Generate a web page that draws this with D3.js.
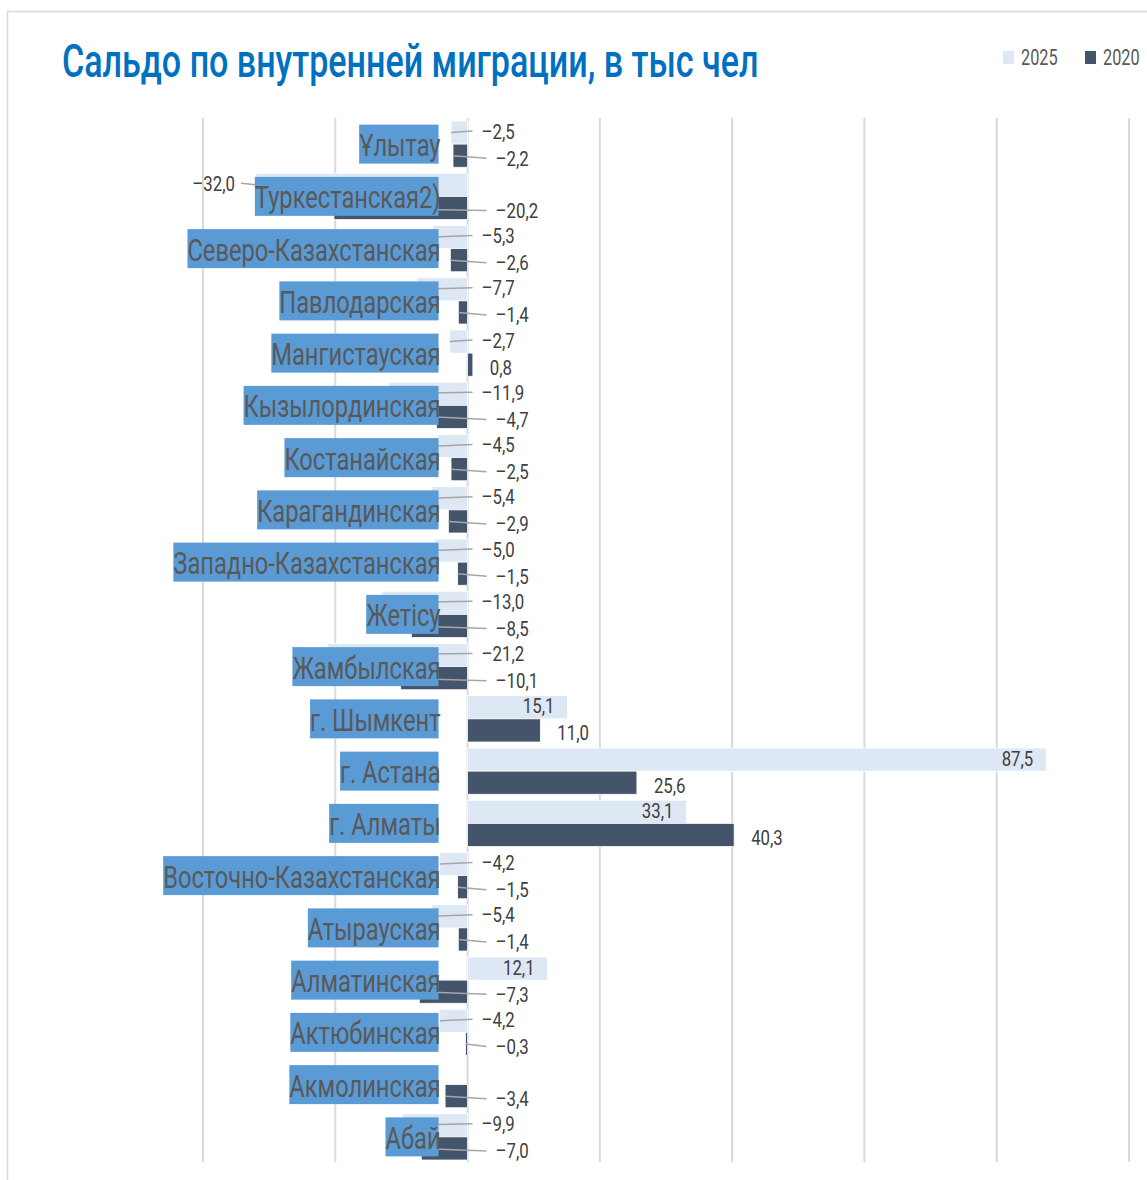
<!DOCTYPE html>
<html>
<head>
<meta charset="utf-8">
<script src="https://cdn.jsdelivr.net/npm/d3@7"></script>
<style>
  html, body { margin: 0; padding: 0; background: #fff; }
  svg { display: block; }
  text { font-family: Roboto, "Noto Sans", sans-serif; }
</style>
</head>
<body>
<svg id="chart" width="1147" height="1180"></svg>
<script>
// ---------- data ----------
const categories = [
  "Ұлытау", "Туркестанская2)", "Северо-Казахстанская", "Павлодарская",
  "Мангистауская", "Кызылординская", "Костанайская", "Карагандинская",
  "Западно-Казахстанская", "Жетісу", "Жамбылская", "г. Шымкент",
  "г. Астана", "г. Алматы", "Восточно-Казахстанская", "Атырауская",
  "Алматинская", "Актюбинская", "Акмолинская", "Абай"
];
const seriesNames = ["2025", "2020"];
const values2025 = [-2.5, -32.0, -5.3, -7.7, -2.7, -11.9, -4.5, -5.4, -5.0, -13.0,
                    -21.2, 15.1, 87.5, 33.1, -4.2, -5.4, 12.1, -4.2, null, -9.9];
const values2020 = [-2.2, -20.2, -2.6, -1.4, 0.8, -4.7, -2.5, -2.9, -1.5, -8.5,
                    -10.1, 11.0, 25.6, 40.3, -1.5, -1.4, -7.3, -0.3, -3.4, -7.0];
const xTicks = [-40, -20, 0, 20, 40, 60, 80, 100];
const titleText = "Сальдо по внутренней миграции, в тыс чел";

// ---------- styles ----------
const colors = { "2025": "#dde8f4", "2020": "#44546a" };
const squeeze = 0.74; // horizontally condensed lettering

const svg = d3.select("#chart");

// outer frame
svg.append("rect").attr("x", 7.5).attr("y", 11.5).attr("width", 1200).attr("height", 1250)
  .attr("fill", "none").attr("stroke", "#d9d9d9").attr("stroke-width", 1.5);

function condensed(sel, k) {
  sel.each(function () {
    const w = this.getComputedTextLength();
    d3.select(this).attr("textLength", w * k).attr("lengthAdjust", "spacingAndGlyphs");
  });
}

// title
svg.append("text").attr("x", 62).attr("y", 77)
  .attr("fill", "#0070c0").attr("font-size", 46).attr("font-weight", 500)
  .text(titleText).call(condensed, 0.74);

// scales
const x = d3.scaleLinear().domain([-40, 100]).range([203, 1129]);
const y = d3.scaleBand().domain(categories).range([118, 1163])
  .paddingInner(0.115).paddingOuter(0.0574);
const ySub = d3.scaleBand().domain(seriesNames).range([0, y.bandwidth()]).padding(0);

// gridlines
svg.append("g").selectAll("line").data(xTicks).join("line")
  .attr("x1", d => x(d)).attr("x2", d => x(d))
  .attr("y1", 118).attr("y2", 1162)
  .attr("stroke", "#d9d9d9").attr("stroke-width", 2);

// legend (condensed via horizontal scaling)
const legend = svg.append("g");
const legX = [1003, 1085];
seriesNames.forEach((s, i) => {
  legend.append("rect").attr("x", legX[i]).attr("y", 51).attr("width", 11).attr("height", 13)
    .attr("fill", colors[s]);
  legend.append("g").attr("transform", `translate(${legX[i] + 18},65) scale(0.74,1)`)
    .append("text").attr("x", 0).attr("y", 0)
    .attr("font-size", 22).attr("fill", "#595959").text(s);
});

// flatten rows
const rows = [];
categories.forEach((c, i) => {
  rows.push({ cat: c, s: "2025", v: values2025[i] });
  rows.push({ cat: c, s: "2020", v: values2020[i] });
});
const valid = rows.filter(d => d.v !== null);

const fmt = v => v.toFixed(1).replace(".", ",").replace("-", "–");
const cy = d => y(d.cat) + ySub(d.s) + ySub.bandwidth() / 2;
// labels nudged apart vertically (2025 up, 2020 down), as in the original
const labelCy = d => cy(d) + (d.s === "2025" ? -1.5 : 2.5);

// bars
svg.append("g").selectAll("rect").data(valid).join("rect")
  .attr("x", d => x(Math.min(0, d.v)))
  .attr("width", d => Math.abs(x(d.v) - x(0)))
  .attr("y", d => y(d.cat) + ySub(d.s))
  .attr("height", ySub.bandwidth())
  .attr("fill", d => colors[d.s])
  .attr("stroke", "#fff").attr("stroke-width", 0.75);

// label placement rules
const outsideLeft = d => d.v < -25;            // long negative bars: label at bar's outer end
const labelX = d => {
  if (outsideLeft(d)) return x(d.v) - 21;
  if (d.v < 0) return x(0) + (d.s === "2025" ? 14 : 28);
  if (d.s === "2025") return x(d.v) - 13;
  return x(d.v) + 17;
};
const labelAnchor = d => (outsideLeft(d) || (d.v >= 0 && d.s === "2025")) ? "end" : "start";

// leader lines for negative values
svg.append("g").selectAll("line").data(valid.filter(d => d.v < 0)).join("line")
  .attr("x1", d => x(d.v))
  .attr("x2", d => outsideLeft(d) ? labelX(d) + 6 : labelX(d) - 9)
  .attr("y1", d => cy(d)).attr("y2", d => labelCy(d))
  .attr("stroke", "#a6a6a6").attr("stroke-width", 1.5);

// category labels with blue boxes
const catG = svg.append("g").selectAll("g").data(categories).join("g");
const catRight = x(0) - 27;
catG.each(function (c) {
  const g = d3.select(this);
  const cyc = y(c) + y.bandwidth() / 2;
  const rect = g.append("rect").attr("fill", "#5b9bd5");
  const t = g.append("text").attr("x", catRight).attr("y", cyc + 12)
    .attr("text-anchor", "end").attr("font-size", 32).attr("fill", "#595959")
    .text(c);
  t.call(condensed, squeeze);
  const w = +t.attr("textLength");
  rect.attr("x", catRight - w).attr("width", w - 2)
    .attr("y", cyc - 19.5).attr("height", 39);
});

// value labels
svg.append("g").selectAll("text").data(valid).join("text")
  .attr("x", labelX).attr("y", d => labelCy(d) + 7.5)
  .attr("text-anchor", labelAnchor)
  .attr("font-size", 21).attr("fill", "#404040")
  .text(d => fmt(d.v))
  .call(condensed, 0.8);
</script>
</body>
</html>
